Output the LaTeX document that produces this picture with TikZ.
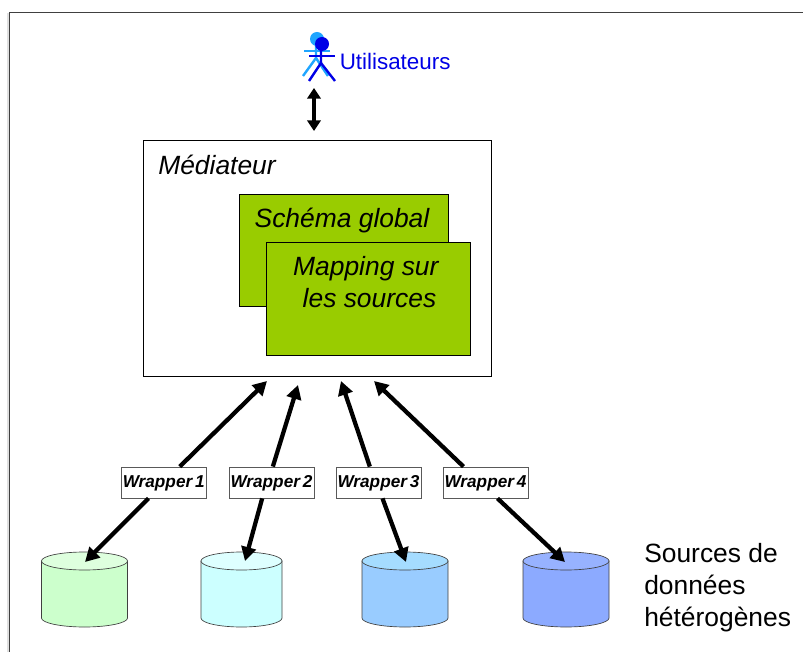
\documentclass[tikz,border=0pt]{standalone}
\usepackage{fontspec}
\setmainfont{Liberation Sans}
\usepackage{tikz}
\usetikzlibrary{arrows.meta}
\definecolor{greenbox}{HTML}{99CC00}
\definecolor{lightman}{HTML}{1FA5FF}
\definecolor{darkman}{HTML}{0000E6}
\definecolor{dbgreen}{HTML}{CCFFCC}
\definecolor{dbcyan}{HTML}{CCFFFF}
\definecolor{dbsky}{HTML}{99CCFF}
\definecolor{dbskytop}{HTML}{A5DCFF}
\definecolor{dbblue}{HTML}{8CAAFF}
\newcommand{\bigtext}{\fontsize{19.8}{24}\selectfont}
% name, centre, half width, body colour, top colour
\newcommand{\database}[5]{
\node[minimum width=2*#3*0.75pt, minimum height=56.25pt, inner sep=0pt] (#1) at (#2, 589.5) {};
\draw[dbline, fill=#4] ({#2-#3}, 561) -- ({#2-#3}, 618) arc[start angle=180, end angle=0, x radius=#3, y radius=9] -- ({#2+#3}, 561) -- cycle;
\draw[dbline, fill=#5] (#2, 561) ellipse[x radius=#3, y radius=9];
}

\tikzset{
	framebox/.style={draw=black, line width=0.5pt, inner sep=0pt},
	wrapbox/.style={draw=black!65, fill=white, line width=0.6pt, minimum width=63.75pt, minimum height=23.25pt, inner sep=0pt, text height=9.5pt, text depth=1.3pt, font=\fontsize{12.9}{15}\selectfont\bfseries\itshape},
	dbline/.style={draw=black!75, line width=0.5pt},
	wraparrow/.style={line width=3.2pt, -{Triangle[length=10.5pt,width=11pt]}},
	man/.style={line width=1.8pt}
}

\begin{document}
\begin{tikzpicture}[x=0.75pt, y=-0.75pt]
\useasboundingbox (0, 0) rectangle (803, 652);
\fill[white] (0, 0) rectangle (803, 652);
\draw[black!12, line width=1.2pt] (8, 13) -- (8, 652);
\draw[black!75, line width=0.8pt] (9.5, 652) -- (9.5, 12.5) -- (803, 12.5);

% utilisateurs
\fill[lightman] (317, 39) circle (7);
\draw[man, lightman] (304, 51) -- (330, 51);
\draw[man, lightman] (316, 44) -- (316, 58) -- (303, 76);
\draw[man, lightman] (316, 58) -- (328, 76);
\fill[darkman] (322, 44) circle (7);
\draw[man, darkman] (309, 56) -- (335, 56);
\draw[man, darkman] (321, 49) -- (321, 63) -- (309, 81);
\draw[man, darkman] (321, 63) -- (335, 81);
\node[anchor=west, inner sep=0pt, text=darkman, font=\fontsize{16.8}{20}\selectfont] (users) at (339.5, 61) {Utilisateurs};

% mediateur
\node[framebox, fill=white, minimum width=260.6pt, minimum height=176.6pt] (mediator) at (317.25, 258.25) {};
\node[inner sep=0pt, font=\bigtext\itshape] (medname) at (217, 165) {Médiateur};
\node[framebox, fill=greenbox, minimum width=156.75pt, minimum height=84pt] (schemabox) at (343.5, 250) {};
\node[inner sep=0pt, font=\bigtext\itshape] (schema) at (342, 221) {Schéma global};
\node[framebox, fill=greenbox, minimum width=153pt, minimum height=84.75pt] (mappingbox) at (368, 298.5) {};
\node[inner sep=0pt, align=center, font=\bigtext\itshape] (mapping) at (369.5, 282) {Mapping sur\ \null\\les sources};

% bases
\database{db1}{84.5}{43}{dbgreen}{dbgreen!65!white}
\database{db2}{241.5}{40.5}{dbcyan}{dbcyan!65!white}
\database{db3}{405}{43}{dbsky}{dbskytop}
\database{db4}{566}{43}{dbblue}{dbblue!90!white}

% wrappers
\node[wrapbox] (wrap1) at (163.75, 482.5) {Wrapper\,1};
\node[wrapbox] (wrap2) at (271.5, 482.5) {Wrapper\,2};
\node[wrapbox] (wrap3) at (378.5, 482.5) {Wrapper\,3};
\node[wrapbox] (wrap4) at (485.5, 482.5) {Wrapper\,4};

\coordinate (up1) at (267, 381);
\coordinate (up2) at (298, 385);
\coordinate (up3) at (341, 381);
\coordinate (up4) at (374, 381);
\coordinate (down1) at (85, 562);
\coordinate (down2) at (245, 561);
\coordinate (down3) at (406, 562);
\coordinate (down4) at (565, 562);

\draw[wraparrow] ([xshift=12pt]wrap1.north) -- (up1);
\draw[wraparrow] ([xshift=1pt]wrap2.north) -- (up2);
\draw[wraparrow] ([xshift=-6.5pt]wrap3.north) -- (up3);
\draw[wraparrow] ([xshift=-16.5pt]wrap4.north) -- (up4);
\draw[wraparrow] ([xshift=-11.5pt]wrap1.south) -- (down1);
\draw[wraparrow] ([xshift=-7pt]wrap2.south) -- (down2);
\draw[wraparrow] ([xshift=3pt]wrap3.south) -- (down3);
\draw[wraparrow] ([xshift=9pt]wrap4.south) -- (down4);

\coordinate (usertop) at (314, 88);
\coordinate (medtop) at (314, 131);
\draw[line width=2.6pt, {Triangle[length=8pt,width=10pt]}-{Triangle[length=8pt,width=10pt]}] (usertop) -- (medtop);

\node[anchor=north west, inner sep=0pt, align=left, font=\bigtext] (sources) at (644, 543) {Sources de\\données\\hétérogènes};
\end{tikzpicture}
\end{document}
